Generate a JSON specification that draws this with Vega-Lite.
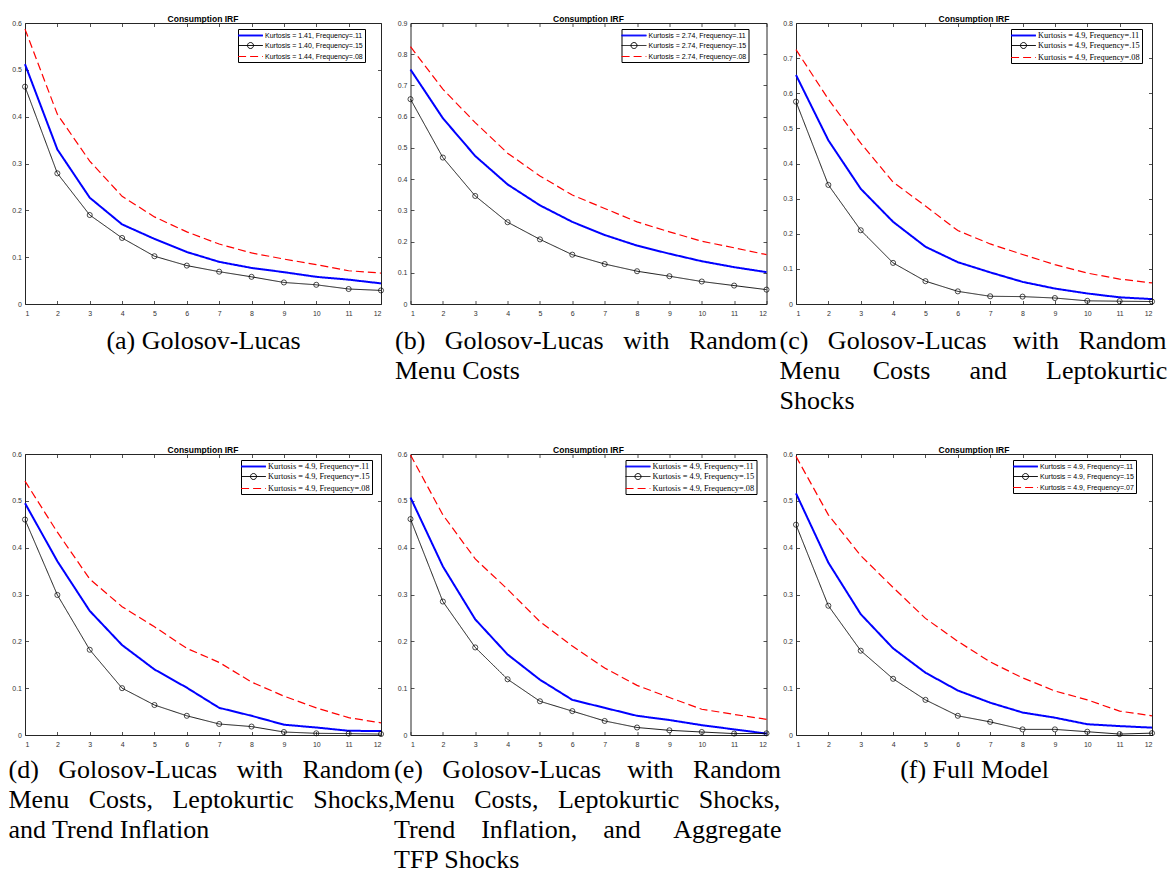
{
  "$schema": "https://vega.github.io/schema/vega-lite/v6.json",
  "background": "white",
  "padding": {"left": 7, "top": 14, "right": 5, "bottom": 25},
  "datasets": {
    "a": [
      {"s": "Kurtosis = 1.41, Frequency=.11", "t": 1, "v": 0.512}, {"s": "Kurtosis = 1.41, Frequency=.11", "t": 2, "v": 0.330}, {"s": "Kurtosis = 1.41, Frequency=.11", "t": 3, "v": 0.227}, {"s": "Kurtosis = 1.41, Frequency=.11", "t": 4, "v": 0.170}, {"s": "Kurtosis = 1.41, Frequency=.11", "t": 5, "v": 0.139}, {"s": "Kurtosis = 1.41, Frequency=.11", "t": 6, "v": 0.111}, {"s": "Kurtosis = 1.41, Frequency=.11", "t": 7, "v": 0.090}, {"s": "Kurtosis = 1.41, Frequency=.11", "t": 8, "v": 0.077}, {"s": "Kurtosis = 1.41, Frequency=.11", "t": 9, "v": 0.068}, {"s": "Kurtosis = 1.41, Frequency=.11", "t": 10, "v": 0.058}, {"s": "Kurtosis = 1.41, Frequency=.11", "t": 11, "v": 0.052}, {"s": "Kurtosis = 1.41, Frequency=.11", "t": 12, "v": 0.044},
      {"s": "Kurtosis = 1.40, Frequency=.15", "t": 1, "v": 0.464}, {"s": "Kurtosis = 1.40, Frequency=.15", "t": 2, "v": 0.279}, {"s": "Kurtosis = 1.40, Frequency=.15", "t": 3, "v": 0.190}, {"s": "Kurtosis = 1.40, Frequency=.15", "t": 4, "v": 0.141}, {"s": "Kurtosis = 1.40, Frequency=.15", "t": 5, "v": 0.102}, {"s": "Kurtosis = 1.40, Frequency=.15", "t": 6, "v": 0.082}, {"s": "Kurtosis = 1.40, Frequency=.15", "t": 7, "v": 0.069}, {"s": "Kurtosis = 1.40, Frequency=.15", "t": 8, "v": 0.058}, {"s": "Kurtosis = 1.40, Frequency=.15", "t": 9, "v": 0.046}, {"s": "Kurtosis = 1.40, Frequency=.15", "t": 10, "v": 0.041}, {"s": "Kurtosis = 1.40, Frequency=.15", "t": 11, "v": 0.032}, {"s": "Kurtosis = 1.40, Frequency=.15", "t": 12, "v": 0.029},
      {"s": "Kurtosis = 1.44, Frequency=.08", "t": 1, "v": 0.587}, {"s": "Kurtosis = 1.44, Frequency=.08", "t": 2, "v": 0.405}, {"s": "Kurtosis = 1.44, Frequency=.08", "t": 3, "v": 0.305}, {"s": "Kurtosis = 1.44, Frequency=.08", "t": 4, "v": 0.230}, {"s": "Kurtosis = 1.44, Frequency=.08", "t": 5, "v": 0.186}, {"s": "Kurtosis = 1.44, Frequency=.08", "t": 6, "v": 0.154}, {"s": "Kurtosis = 1.44, Frequency=.08", "t": 7, "v": 0.128}, {"s": "Kurtosis = 1.44, Frequency=.08", "t": 8, "v": 0.109}, {"s": "Kurtosis = 1.44, Frequency=.08", "t": 9, "v": 0.096}, {"s": "Kurtosis = 1.44, Frequency=.08", "t": 10, "v": 0.084}, {"s": "Kurtosis = 1.44, Frequency=.08", "t": 11, "v": 0.071}, {"s": "Kurtosis = 1.44, Frequency=.08", "t": 12, "v": 0.066}
    ],
    "b": [
      {"s": "Kurtosis = 2.74, Frequency=.11", "t": 1, "v": 0.751}, {"s": "Kurtosis = 2.74, Frequency=.11", "t": 2, "v": 0.595}, {"s": "Kurtosis = 2.74, Frequency=.11", "t": 3, "v": 0.474}, {"s": "Kurtosis = 2.74, Frequency=.11", "t": 4, "v": 0.383}, {"s": "Kurtosis = 2.74, Frequency=.11", "t": 5, "v": 0.316}, {"s": "Kurtosis = 2.74, Frequency=.11", "t": 6, "v": 0.263}, {"s": "Kurtosis = 2.74, Frequency=.11", "t": 7, "v": 0.221}, {"s": "Kurtosis = 2.74, Frequency=.11", "t": 8, "v": 0.187}, {"s": "Kurtosis = 2.74, Frequency=.11", "t": 9, "v": 0.161}, {"s": "Kurtosis = 2.74, Frequency=.11", "t": 10, "v": 0.137}, {"s": "Kurtosis = 2.74, Frequency=.11", "t": 11, "v": 0.118}, {"s": "Kurtosis = 2.74, Frequency=.11", "t": 12, "v": 0.102},
      {"s": "Kurtosis = 2.74, Frequency=.15", "t": 1, "v": 0.656}, {"s": "Kurtosis = 2.74, Frequency=.15", "t": 2, "v": 0.469}, {"s": "Kurtosis = 2.74, Frequency=.15", "t": 3, "v": 0.346}, {"s": "Kurtosis = 2.74, Frequency=.15", "t": 4, "v": 0.262}, {"s": "Kurtosis = 2.74, Frequency=.15", "t": 5, "v": 0.207}, {"s": "Kurtosis = 2.74, Frequency=.15", "t": 6, "v": 0.158}, {"s": "Kurtosis = 2.74, Frequency=.15", "t": 7, "v": 0.128}, {"s": "Kurtosis = 2.74, Frequency=.15", "t": 8, "v": 0.105}, {"s": "Kurtosis = 2.74, Frequency=.15", "t": 9, "v": 0.089}, {"s": "Kurtosis = 2.74, Frequency=.15", "t": 10, "v": 0.072}, {"s": "Kurtosis = 2.74, Frequency=.15", "t": 11, "v": 0.059}, {"s": "Kurtosis = 2.74, Frequency=.15", "t": 12, "v": 0.046},
      {"s": "Kurtosis = 2.74, Frequency=.08", "t": 1, "v": 0.824}, {"s": "Kurtosis = 2.74, Frequency=.08", "t": 2, "v": 0.688}, {"s": "Kurtosis = 2.74, Frequency=.08", "t": 3, "v": 0.581}, {"s": "Kurtosis = 2.74, Frequency=.08", "t": 4, "v": 0.483}, {"s": "Kurtosis = 2.74, Frequency=.08", "t": 5, "v": 0.410}, {"s": "Kurtosis = 2.74, Frequency=.08", "t": 6, "v": 0.349}, {"s": "Kurtosis = 2.74, Frequency=.08", "t": 7, "v": 0.306}, {"s": "Kurtosis = 2.74, Frequency=.08", "t": 8, "v": 0.263}, {"s": "Kurtosis = 2.74, Frequency=.08", "t": 9, "v": 0.231}, {"s": "Kurtosis = 2.74, Frequency=.08", "t": 10, "v": 0.201}, {"s": "Kurtosis = 2.74, Frequency=.08", "t": 11, "v": 0.180}, {"s": "Kurtosis = 2.74, Frequency=.08", "t": 12, "v": 0.158}
    ],
    "c": [
      {"s": "Kurtosis = 4.9, Frequency=.11", "t": 1, "v": 0.652}, {"s": "Kurtosis = 4.9, Frequency=.11", "t": 2, "v": 0.466}, {"s": "Kurtosis = 4.9, Frequency=.11", "t": 3, "v": 0.328}, {"s": "Kurtosis = 4.9, Frequency=.11", "t": 4, "v": 0.234}, {"s": "Kurtosis = 4.9, Frequency=.11", "t": 5, "v": 0.163}, {"s": "Kurtosis = 4.9, Frequency=.11", "t": 6, "v": 0.119}, {"s": "Kurtosis = 4.9, Frequency=.11", "t": 7, "v": 0.090}, {"s": "Kurtosis = 4.9, Frequency=.11", "t": 8, "v": 0.063}, {"s": "Kurtosis = 4.9, Frequency=.11", "t": 9, "v": 0.044}, {"s": "Kurtosis = 4.9, Frequency=.11", "t": 10, "v": 0.030}, {"s": "Kurtosis = 4.9, Frequency=.11", "t": 11, "v": 0.019}, {"s": "Kurtosis = 4.9, Frequency=.11", "t": 12, "v": 0.014},
      {"s": "Kurtosis = 4.9, Frequency=.15", "t": 1, "v": 0.576}, {"s": "Kurtosis = 4.9, Frequency=.15", "t": 2, "v": 0.339}, {"s": "Kurtosis = 4.9, Frequency=.15", "t": 3, "v": 0.210}, {"s": "Kurtosis = 4.9, Frequency=.15", "t": 4, "v": 0.117}, {"s": "Kurtosis = 4.9, Frequency=.15", "t": 5, "v": 0.065}, {"s": "Kurtosis = 4.9, Frequency=.15", "t": 6, "v": 0.036}, {"s": "Kurtosis = 4.9, Frequency=.15", "t": 7, "v": 0.022}, {"s": "Kurtosis = 4.9, Frequency=.15", "t": 8, "v": 0.021}, {"s": "Kurtosis = 4.9, Frequency=.15", "t": 9, "v": 0.017}, {"s": "Kurtosis = 4.9, Frequency=.15", "t": 10, "v": 0.009}, {"s": "Kurtosis = 4.9, Frequency=.15", "t": 11, "v": 0.008}, {"s": "Kurtosis = 4.9, Frequency=.15", "t": 12, "v": 0.007},
      {"s": "Kurtosis = 4.9, Frequency=.08", "t": 1, "v": 0.724}, {"s": "Kurtosis = 4.9, Frequency=.08", "t": 2, "v": 0.583}, {"s": "Kurtosis = 4.9, Frequency=.08", "t": 3, "v": 0.458}, {"s": "Kurtosis = 4.9, Frequency=.08", "t": 4, "v": 0.347}, {"s": "Kurtosis = 4.9, Frequency=.08", "t": 5, "v": 0.279}, {"s": "Kurtosis = 4.9, Frequency=.08", "t": 6, "v": 0.209}, {"s": "Kurtosis = 4.9, Frequency=.08", "t": 7, "v": 0.171}, {"s": "Kurtosis = 4.9, Frequency=.08", "t": 8, "v": 0.141}, {"s": "Kurtosis = 4.9, Frequency=.08", "t": 9, "v": 0.112}, {"s": "Kurtosis = 4.9, Frequency=.08", "t": 10, "v": 0.088}, {"s": "Kurtosis = 4.9, Frequency=.08", "t": 11, "v": 0.071}, {"s": "Kurtosis = 4.9, Frequency=.08", "t": 12, "v": 0.060}
    ],
    "d": [
      {"s": "Kurtosis = 4.9, Frequency=.11", "t": 1, "v": 0.495}, {"s": "Kurtosis = 4.9, Frequency=.11", "t": 2, "v": 0.371}, {"s": "Kurtosis = 4.9, Frequency=.11", "t": 3, "v": 0.265}, {"s": "Kurtosis = 4.9, Frequency=.11", "t": 4, "v": 0.192}, {"s": "Kurtosis = 4.9, Frequency=.11", "t": 5, "v": 0.140}, {"s": "Kurtosis = 4.9, Frequency=.11", "t": 6, "v": 0.101}, {"s": "Kurtosis = 4.9, Frequency=.11", "t": 7, "v": 0.058}, {"s": "Kurtosis = 4.9, Frequency=.11", "t": 8, "v": 0.041}, {"s": "Kurtosis = 4.9, Frequency=.11", "t": 9, "v": 0.022}, {"s": "Kurtosis = 4.9, Frequency=.11", "t": 10, "v": 0.016}, {"s": "Kurtosis = 4.9, Frequency=.11", "t": 11, "v": 0.009}, {"s": "Kurtosis = 4.9, Frequency=.11", "t": 12, "v": 0.0085},
      {"s": "Kurtosis = 4.9, Frequency=.15", "t": 1, "v": 0.460}, {"s": "Kurtosis = 4.9, Frequency=.15", "t": 2, "v": 0.299}, {"s": "Kurtosis = 4.9, Frequency=.15", "t": 3, "v": 0.182}, {"s": "Kurtosis = 4.9, Frequency=.15", "t": 4, "v": 0.100}, {"s": "Kurtosis = 4.9, Frequency=.15", "t": 5, "v": 0.064}, {"s": "Kurtosis = 4.9, Frequency=.15", "t": 6, "v": 0.041}, {"s": "Kurtosis = 4.9, Frequency=.15", "t": 7, "v": 0.0235}, {"s": "Kurtosis = 4.9, Frequency=.15", "t": 8, "v": 0.018}, {"s": "Kurtosis = 4.9, Frequency=.15", "t": 9, "v": 0.0064}, {"s": "Kurtosis = 4.9, Frequency=.15", "t": 10, "v": 0.0036}, {"s": "Kurtosis = 4.9, Frequency=.15", "t": 11, "v": 0.003}, {"s": "Kurtosis = 4.9, Frequency=.15", "t": 12, "v": 0.002},
      {"s": "Kurtosis = 4.9, Frequency=.08", "t": 1, "v": 0.542}, {"s": "Kurtosis = 4.9, Frequency=.08", "t": 2, "v": 0.433}, {"s": "Kurtosis = 4.9, Frequency=.08", "t": 3, "v": 0.333}, {"s": "Kurtosis = 4.9, Frequency=.08", "t": 4, "v": 0.274}, {"s": "Kurtosis = 4.9, Frequency=.08", "t": 5, "v": 0.231}, {"s": "Kurtosis = 4.9, Frequency=.08", "t": 6, "v": 0.185}, {"s": "Kurtosis = 4.9, Frequency=.08", "t": 7, "v": 0.155}, {"s": "Kurtosis = 4.9, Frequency=.08", "t": 8, "v": 0.113}, {"s": "Kurtosis = 4.9, Frequency=.08", "t": 9, "v": 0.083}, {"s": "Kurtosis = 4.9, Frequency=.08", "t": 10, "v": 0.058}, {"s": "Kurtosis = 4.9, Frequency=.08", "t": 11, "v": 0.037}, {"s": "Kurtosis = 4.9, Frequency=.08", "t": 12, "v": 0.026}
    ],
    "e": [
      {"s": "Kurtosis = 4.9, Frequency=.11", "t": 1, "v": 0.507}, {"s": "Kurtosis = 4.9, Frequency=.11", "t": 2, "v": 0.360}, {"s": "Kurtosis = 4.9, Frequency=.11", "t": 3, "v": 0.247}, {"s": "Kurtosis = 4.9, Frequency=.11", "t": 4, "v": 0.172}, {"s": "Kurtosis = 4.9, Frequency=.11", "t": 5, "v": 0.118}, {"s": "Kurtosis = 4.9, Frequency=.11", "t": 6, "v": 0.075}, {"s": "Kurtosis = 4.9, Frequency=.11", "t": 7, "v": 0.058}, {"s": "Kurtosis = 4.9, Frequency=.11", "t": 8, "v": 0.041}, {"s": "Kurtosis = 4.9, Frequency=.11", "t": 9, "v": 0.032}, {"s": "Kurtosis = 4.9, Frequency=.11", "t": 10, "v": 0.021}, {"s": "Kurtosis = 4.9, Frequency=.11", "t": 11, "v": 0.012}, {"s": "Kurtosis = 4.9, Frequency=.11", "t": 12, "v": 0.003},
      {"s": "Kurtosis = 4.9, Frequency=.15", "t": 1, "v": 0.461}, {"s": "Kurtosis = 4.9, Frequency=.15", "t": 2, "v": 0.285}, {"s": "Kurtosis = 4.9, Frequency=.15", "t": 3, "v": 0.187}, {"s": "Kurtosis = 4.9, Frequency=.15", "t": 4, "v": 0.119}, {"s": "Kurtosis = 4.9, Frequency=.15", "t": 5, "v": 0.072}, {"s": "Kurtosis = 4.9, Frequency=.15", "t": 6, "v": 0.051}, {"s": "Kurtosis = 4.9, Frequency=.15", "t": 7, "v": 0.030}, {"s": "Kurtosis = 4.9, Frequency=.15", "t": 8, "v": 0.016}, {"s": "Kurtosis = 4.9, Frequency=.15", "t": 9, "v": 0.010}, {"s": "Kurtosis = 4.9, Frequency=.15", "t": 10, "v": 0.0064}, {"s": "Kurtosis = 4.9, Frequency=.15", "t": 11, "v": 0.003}, {"s": "Kurtosis = 4.9, Frequency=.15", "t": 12, "v": 0.0035},
      {"s": "Kurtosis = 4.9, Frequency=.08", "t": 1, "v": 0.598}, {"s": "Kurtosis = 4.9, Frequency=.08", "t": 2, "v": 0.470}, {"s": "Kurtosis = 4.9, Frequency=.08", "t": 3, "v": 0.376}, {"s": "Kurtosis = 4.9, Frequency=.08", "t": 4, "v": 0.311}, {"s": "Kurtosis = 4.9, Frequency=.08", "t": 5, "v": 0.242}, {"s": "Kurtosis = 4.9, Frequency=.08", "t": 6, "v": 0.190}, {"s": "Kurtosis = 4.9, Frequency=.08", "t": 7, "v": 0.143}, {"s": "Kurtosis = 4.9, Frequency=.08", "t": 8, "v": 0.106}, {"s": "Kurtosis = 4.9, Frequency=.08", "t": 9, "v": 0.080}, {"s": "Kurtosis = 4.9, Frequency=.08", "t": 10, "v": 0.055}, {"s": "Kurtosis = 4.9, Frequency=.08", "t": 11, "v": 0.044}, {"s": "Kurtosis = 4.9, Frequency=.08", "t": 12, "v": 0.0335}
    ],
    "f": [
      {"s": "Kurtosis = 4.9, Frequency=.11", "t": 1, "v": 0.516}, {"s": "Kurtosis = 4.9, Frequency=.11", "t": 2, "v": 0.368}, {"s": "Kurtosis = 4.9, Frequency=.11", "t": 3, "v": 0.258}, {"s": "Kurtosis = 4.9, Frequency=.11", "t": 4, "v": 0.185}, {"s": "Kurtosis = 4.9, Frequency=.11", "t": 5, "v": 0.133}, {"s": "Kurtosis = 4.9, Frequency=.11", "t": 6, "v": 0.095}, {"s": "Kurtosis = 4.9, Frequency=.11", "t": 7, "v": 0.069}, {"s": "Kurtosis = 4.9, Frequency=.11", "t": 8, "v": 0.048}, {"s": "Kurtosis = 4.9, Frequency=.11", "t": 9, "v": 0.037}, {"s": "Kurtosis = 4.9, Frequency=.11", "t": 10, "v": 0.023}, {"s": "Kurtosis = 4.9, Frequency=.11", "t": 11, "v": 0.019}, {"s": "Kurtosis = 4.9, Frequency=.11", "t": 12, "v": 0.0157},
      {"s": "Kurtosis = 4.9, Frequency=.15", "t": 1, "v": 0.449}, {"s": "Kurtosis = 4.9, Frequency=.15", "t": 2, "v": 0.276}, {"s": "Kurtosis = 4.9, Frequency=.15", "t": 3, "v": 0.180}, {"s": "Kurtosis = 4.9, Frequency=.15", "t": 4, "v": 0.120}, {"s": "Kurtosis = 4.9, Frequency=.15", "t": 5, "v": 0.075}, {"s": "Kurtosis = 4.9, Frequency=.15", "t": 6, "v": 0.041}, {"s": "Kurtosis = 4.9, Frequency=.15", "t": 7, "v": 0.028}, {"s": "Kurtosis = 4.9, Frequency=.15", "t": 8, "v": 0.012}, {"s": "Kurtosis = 4.9, Frequency=.15", "t": 9, "v": 0.012}, {"s": "Kurtosis = 4.9, Frequency=.15", "t": 10, "v": 0.007}, {"s": "Kurtosis = 4.9, Frequency=.15", "t": 11, "v": 0.002}, {"s": "Kurtosis = 4.9, Frequency=.15", "t": 12, "v": 0.004},
      {"s": "Kurtosis = 4.9, Frequency=.07", "t": 1, "v": 0.595}, {"s": "Kurtosis = 4.9, Frequency=.07", "t": 2, "v": 0.470}, {"s": "Kurtosis = 4.9, Frequency=.07", "t": 3, "v": 0.383}, {"s": "Kurtosis = 4.9, Frequency=.07", "t": 4, "v": 0.315}, {"s": "Kurtosis = 4.9, Frequency=.07", "t": 5, "v": 0.249}, {"s": "Kurtosis = 4.9, Frequency=.07", "t": 6, "v": 0.200}, {"s": "Kurtosis = 4.9, Frequency=.07", "t": 7, "v": 0.156}, {"s": "Kurtosis = 4.9, Frequency=.07", "t": 8, "v": 0.122}, {"s": "Kurtosis = 4.9, Frequency=.07", "t": 9, "v": 0.094}, {"s": "Kurtosis = 4.9, Frequency=.07", "t": 10, "v": 0.075}, {"s": "Kurtosis = 4.9, Frequency=.07", "t": 11, "v": 0.051}, {"s": "Kurtosis = 4.9, Frequency=.07", "t": 12, "v": 0.041}
    ]
  },
  "columns": 3,
  "spacing": {"row": 150, "column": 29.5},
  "bounds": "flush",
  "resolve": {"scale": {"color": "independent", "strokeDash": "independent", "shape": "independent"}, "legend": {"color": "independent", "strokeDash": "independent", "shape": "independent"}},
  "concat": [
    {
      "width": 356, "height": 281, "title": "Consumption IRF", "data": {"name": "a"},
      "layer": [
        {"mark": {"type": "line"},
         "encoding": {
           "x": {"field": "t", "type": "quantitative", "scale": {"domain": [1, 12], "nice": false, "zero": false}, "axis": {"orient": "bottom", "values": [1,2,3,4,5,6,7,8,9,10,11,12], "title": ["(a) Golosov-Lucas"], "titleX": 178, "titleY": 44, "titleAlign": "center"}},
           "y": {"field": "v", "type": "quantitative", "scale": {"domain": [0, 0.6], "nice": false}, "axis": {"orient": "left", "values": [0,0.1,0.2,0.3,0.4,0.5,0.6], "title": null}},
           "color": {"field": "s", "type": "nominal", "scale": {"domain": ["Kurtosis = 1.41, Frequency=.11", "Kurtosis = 1.40, Frequency=.15", "Kurtosis = 1.44, Frequency=.08"], "range": ["#0000ff", "#000000", "#ff0000"]}, "legend": {"title": null, "labelFont": "Liberation Sans", "labelFontSize": 7, "legendX": 213}},
           "strokeDash": {"field": "s", "type": "nominal", "scale": {"domain": ["Kurtosis = 1.41, Frequency=.11", "Kurtosis = 1.40, Frequency=.15", "Kurtosis = 1.44, Frequency=.08"], "range": [[1, 0], [1, 0], [8, 4]]}, "legend": {"title": null, "labelFont": "Liberation Sans", "labelFontSize": 7, "legendX": 213}},
           "strokeWidth": {"condition": [{"test": "indexof(datum.s, '.11') >= 0", "value": 2}, {"test": "indexof(datum.s, '.15') >= 0", "value": 0.9}], "value": 1.2}
         }},
        {"transform": [{"filter": "indexof(datum.s, '.15') >= 0"}],
         "mark": {"type": "point", "shape": "circle", "filled": false, "size": 26, "color": "#000000", "strokeWidth": 0.7, "opacity": 1},
         "encoding": {
           "x": {"field": "t", "type": "quantitative", "scale": {"domain": [1, 12], "nice": false, "zero": false}, "axis": {"orient": "top", "values": [1,2,3,4,5,6,7,8,9,10,11,12], "labels": false, "title": null}},
           "y": {"field": "v", "type": "quantitative", "scale": {"domain": [0, 0.6], "nice": false}, "axis": {"orient": "right", "values": [0,0.1,0.2,0.3,0.4,0.5,0.6], "labels": false, "title": null}}
         }},
        {"mark": {"type": "point", "filled": false, "opacity": 0},
         "encoding": {
           "x": {"field": "t", "type": "quantitative", "scale": {"domain": [1, 12], "nice": false, "zero": false}, "axis": null},
           "y": {"field": "v", "type": "quantitative", "scale": {"domain": [0, 0.6], "nice": false}, "axis": null},
           "shape": {"field": "s", "type": "nominal", "scale": {"domain": ["Kurtosis = 1.41, Frequency=.11", "Kurtosis = 1.40, Frequency=.15", "Kurtosis = 1.44, Frequency=.08"], "range": ["M-3.1,-0.12L3.1,-0.12M-3.1,0L3.1,0M-3.1,0.12L3.1,0.12", "M-3.1,0L3.1,0M0.75,0A0.75,0.75,0,1,1,-0.75,0A0.75,0.75,0,1,1,0.75,0", "M-3.1,0L3.1,0"]}, "legend": {"title": null, "labelFont": "Liberation Sans", "labelFontSize": 7, "legendX": 213}}
         }}
      ],
      "resolve": {"axis": {"x": "independent", "y": "independent"}}
    },
    {
      "width": 356, "height": 281, "title": "Consumption IRF", "data": {"name": "b"},
      "layer": [
        {"mark": {"type": "line"},
         "encoding": {
           "x": {"field": "t", "type": "quantitative", "scale": {"domain": [1, 12], "nice": false, "zero": false}, "axis": {"orient": "bottom", "values": [1,2,3,4,5,6,7,8,9,10,11,12], "title": ["(b)\u00a0\u00a0\u00a0Golosov-Lucas\u00a0\u00a0\u00a0with\u00a0\u00a0\u00a0Random", "Menu Costs"], "titleX": -16, "titleY": 44, "titleAlign": "left"}},
           "y": {"field": "v", "type": "quantitative", "scale": {"domain": [0, 0.9], "nice": false}, "axis": {"orient": "left", "values": [0,0.1,0.2,0.3,0.4,0.5,0.6,0.7,0.8,0.9], "title": null}},
           "color": {"field": "s", "type": "nominal", "scale": {"domain": ["Kurtosis = 2.74, Frequency=.11", "Kurtosis = 2.74, Frequency=.15", "Kurtosis = 2.74, Frequency=.08"], "range": ["#0000ff", "#000000", "#ff0000"]}, "legend": {"title": null, "labelFont": "Liberation Sans", "labelFontSize": 7, "legendX": 211}},
           "strokeDash": {"field": "s", "type": "nominal", "scale": {"domain": ["Kurtosis = 2.74, Frequency=.11", "Kurtosis = 2.74, Frequency=.15", "Kurtosis = 2.74, Frequency=.08"], "range": [[1, 0], [1, 0], [8, 4]]}, "legend": {"title": null, "labelFont": "Liberation Sans", "labelFontSize": 7, "legendX": 211}},
           "strokeWidth": {"condition": [{"test": "indexof(datum.s, '.11') >= 0", "value": 2}, {"test": "indexof(datum.s, '.15') >= 0", "value": 0.9}], "value": 1.2}
         }},
        {"transform": [{"filter": "indexof(datum.s, '.15') >= 0"}],
         "mark": {"type": "point", "shape": "circle", "filled": false, "size": 26, "color": "#000000", "strokeWidth": 0.7, "opacity": 1},
         "encoding": {
           "x": {"field": "t", "type": "quantitative", "scale": {"domain": [1, 12], "nice": false, "zero": false}, "axis": {"orient": "top", "values": [1,2,3,4,5,6,7,8,9,10,11,12], "labels": false, "title": null}},
           "y": {"field": "v", "type": "quantitative", "scale": {"domain": [0, 0.9], "nice": false}, "axis": {"orient": "right", "values": [0,0.1,0.2,0.3,0.4,0.5,0.6,0.7,0.8,0.9], "labels": false, "title": null}}
         }},
        {"mark": {"type": "point", "filled": false, "opacity": 0},
         "encoding": {
           "x": {"field": "t", "type": "quantitative", "scale": {"domain": [1, 12], "nice": false, "zero": false}, "axis": null},
           "y": {"field": "v", "type": "quantitative", "scale": {"domain": [0, 0.9], "nice": false}, "axis": null},
           "shape": {"field": "s", "type": "nominal", "scale": {"domain": ["Kurtosis = 2.74, Frequency=.11", "Kurtosis = 2.74, Frequency=.15", "Kurtosis = 2.74, Frequency=.08"], "range": ["M-3.1,-0.12L3.1,-0.12M-3.1,0L3.1,0M-3.1,0.12L3.1,0.12", "M-3.1,0L3.1,0M0.75,0A0.75,0.75,0,1,1,-0.75,0A0.75,0.75,0,1,1,0.75,0", "M-3.1,0L3.1,0"]}, "legend": {"title": null, "labelFont": "Liberation Sans", "labelFontSize": 7, "legendX": 211}}
         }}
      ],
      "resolve": {"axis": {"x": "independent", "y": "independent"}}
    },
    {
      "width": 356, "height": 281, "title": "Consumption IRF", "data": {"name": "c"},
      "layer": [
        {"mark": {"type": "line"},
         "encoding": {
           "x": {"field": "t", "type": "quantitative", "scale": {"domain": [1, 12], "nice": false, "zero": false}, "axis": {"orient": "bottom", "values": [1,2,3,4,5,6,7,8,9,10,11,12], "title": ["(c)\u00a0\u00a0\u00a0Golosov-Lucas\u00a0\u00a0\u00a0\u00a0with\u00a0\u00a0\u00a0Random", "Menu\u00a0\u00a0\u00a0\u00a0\u00a0Costs\u00a0\u00a0\u00a0\u00a0\u00a0\u00a0and\u00a0\u00a0\u00a0\u00a0\u00a0\u00a0Leptokurtic", "Shocks"], "titleX": -17, "titleY": 44, "titleAlign": "left"}},
           "y": {"field": "v", "type": "quantitative", "scale": {"domain": [0, 0.8], "nice": false}, "axis": {"orient": "left", "values": [0,0.1,0.2,0.3,0.4,0.5,0.6,0.7,0.8], "title": null}},
           "color": {"field": "s", "type": "nominal", "scale": {"domain": ["Kurtosis = 4.9, Frequency=.11", "Kurtosis = 4.9, Frequency=.15", "Kurtosis = 4.9, Frequency=.08"], "range": ["#0000ff", "#000000", "#ff0000"]}, "legend": {"title": null, "labelFont": "Liberation Serif", "labelFontSize": 8.3, "legendX": 215}},
           "strokeDash": {"field": "s", "type": "nominal", "scale": {"domain": ["Kurtosis = 4.9, Frequency=.11", "Kurtosis = 4.9, Frequency=.15", "Kurtosis = 4.9, Frequency=.08"], "range": [[1, 0], [1, 0], [8, 4]]}, "legend": {"title": null, "labelFont": "Liberation Serif", "labelFontSize": 8.3, "legendX": 215}},
           "strokeWidth": {"condition": [{"test": "indexof(datum.s, '.11') >= 0", "value": 2}, {"test": "indexof(datum.s, '.15') >= 0", "value": 0.9}], "value": 1.2}
         }},
        {"transform": [{"filter": "indexof(datum.s, '.15') >= 0"}],
         "mark": {"type": "point", "shape": "circle", "filled": false, "size": 26, "color": "#000000", "strokeWidth": 0.7, "opacity": 1},
         "encoding": {
           "x": {"field": "t", "type": "quantitative", "scale": {"domain": [1, 12], "nice": false, "zero": false}, "axis": {"orient": "top", "values": [1,2,3,4,5,6,7,8,9,10,11,12], "labels": false, "title": null}},
           "y": {"field": "v", "type": "quantitative", "scale": {"domain": [0, 0.8], "nice": false}, "axis": {"orient": "right", "values": [0,0.1,0.2,0.3,0.4,0.5,0.6,0.7,0.8], "labels": false, "title": null}}
         }},
        {"mark": {"type": "point", "filled": false, "opacity": 0},
         "encoding": {
           "x": {"field": "t", "type": "quantitative", "scale": {"domain": [1, 12], "nice": false, "zero": false}, "axis": null},
           "y": {"field": "v", "type": "quantitative", "scale": {"domain": [0, 0.8], "nice": false}, "axis": null},
           "shape": {"field": "s", "type": "nominal", "scale": {"domain": ["Kurtosis = 4.9, Frequency=.11", "Kurtosis = 4.9, Frequency=.15", "Kurtosis = 4.9, Frequency=.08"], "range": ["M-3.1,-0.12L3.1,-0.12M-3.1,0L3.1,0M-3.1,0.12L3.1,0.12", "M-3.1,0L3.1,0M0.75,0A0.75,0.75,0,1,1,-0.75,0A0.75,0.75,0,1,1,0.75,0", "M-3.1,0L3.1,0"]}, "legend": {"title": null, "labelFont": "Liberation Serif", "labelFontSize": 8.3, "legendX": 215}}
         }}
      ],
      "resolve": {"axis": {"x": "independent", "y": "independent"}}
    },
    {
      "width": 356, "height": 281, "title": "Consumption IRF", "data": {"name": "d"},
      "layer": [
        {"mark": {"type": "line"},
         "encoding": {
           "x": {"field": "t", "type": "quantitative", "scale": {"domain": [1, 12], "nice": false, "zero": false}, "axis": {"orient": "bottom", "values": [1,2,3,4,5,6,7,8,9,10,11,12], "title": ["(d)\u00a0\u00a0\u00a0Golosov-Lucas\u00a0\u00a0\u00a0with\u00a0\u00a0\u00a0Random", "Menu\u00a0\u00a0\u00a0Costs,\u00a0\u00a0\u00a0Leptokurtic\u00a0\u00a0\u00a0Shocks,", "and Trend Inflation"], "titleX": -17, "titleY": 42, "titleAlign": "left"}},
           "y": {"field": "v", "type": "quantitative", "scale": {"domain": [0, 0.6], "nice": false}, "axis": {"orient": "left", "values": [0,0.1,0.2,0.3,0.4,0.5,0.6], "title": null}},
           "color": {"field": "s", "type": "nominal", "scale": {"domain": ["Kurtosis = 4.9, Frequency=.11", "Kurtosis = 4.9, Frequency=.15", "Kurtosis = 4.9, Frequency=.08"], "range": ["#0000ff", "#000000", "#ff0000"]}, "legend": {"title": null, "labelFont": "Liberation Serif", "labelFontSize": 8.3, "legendX": 216}},
           "strokeDash": {"field": "s", "type": "nominal", "scale": {"domain": ["Kurtosis = 4.9, Frequency=.11", "Kurtosis = 4.9, Frequency=.15", "Kurtosis = 4.9, Frequency=.08"], "range": [[1, 0], [1, 0], [8, 4]]}, "legend": {"title": null, "labelFont": "Liberation Serif", "labelFontSize": 8.3, "legendX": 216}},
           "strokeWidth": {"condition": [{"test": "indexof(datum.s, '.11') >= 0", "value": 2}, {"test": "indexof(datum.s, '.15') >= 0", "value": 0.9}], "value": 1.2}
         }},
        {"transform": [{"filter": "indexof(datum.s, '.15') >= 0"}],
         "mark": {"type": "point", "shape": "circle", "filled": false, "size": 26, "color": "#000000", "strokeWidth": 0.7, "opacity": 1},
         "encoding": {
           "x": {"field": "t", "type": "quantitative", "scale": {"domain": [1, 12], "nice": false, "zero": false}, "axis": {"orient": "top", "values": [1,2,3,4,5,6,7,8,9,10,11,12], "labels": false, "title": null}},
           "y": {"field": "v", "type": "quantitative", "scale": {"domain": [0, 0.6], "nice": false}, "axis": {"orient": "right", "values": [0,0.1,0.2,0.3,0.4,0.5,0.6], "labels": false, "title": null}}
         }},
        {"mark": {"type": "point", "filled": false, "opacity": 0},
         "encoding": {
           "x": {"field": "t", "type": "quantitative", "scale": {"domain": [1, 12], "nice": false, "zero": false}, "axis": null},
           "y": {"field": "v", "type": "quantitative", "scale": {"domain": [0, 0.6], "nice": false}, "axis": null},
           "shape": {"field": "s", "type": "nominal", "scale": {"domain": ["Kurtosis = 4.9, Frequency=.11", "Kurtosis = 4.9, Frequency=.15", "Kurtosis = 4.9, Frequency=.08"], "range": ["M-3.1,-0.12L3.1,-0.12M-3.1,0L3.1,0M-3.1,0.12L3.1,0.12", "M-3.1,0L3.1,0M0.75,0A0.75,0.75,0,1,1,-0.75,0A0.75,0.75,0,1,1,0.75,0", "M-3.1,0L3.1,0"]}, "legend": {"title": null, "labelFont": "Liberation Serif", "labelFontSize": 8.3, "legendX": 216}}
         }}
      ],
      "resolve": {"axis": {"x": "independent", "y": "independent"}}
    },
    {
      "width": 356, "height": 281, "title": "Consumption IRF", "data": {"name": "e"},
      "layer": [
        {"mark": {"type": "line"},
         "encoding": {
           "x": {"field": "t", "type": "quantitative", "scale": {"domain": [1, 12], "nice": false, "zero": false}, "axis": {"orient": "bottom", "values": [1,2,3,4,5,6,7,8,9,10,11,12], "title": ["(e)\u00a0\u00a0\u00a0Golosov-Lucas\u00a0\u00a0\u00a0\u00a0with\u00a0\u00a0\u00a0Random", "Menu\u00a0\u00a0\u00a0Costs,\u00a0\u00a0\u00a0Leptokurtic\u00a0\u00a0\u00a0Shocks,", "Trend\u00a0\u00a0\u00a0\u00a0Inflation,\u00a0\u00a0\u00a0\u00a0and\u00a0\u00a0\u00a0\u00a0\u00a0Aggregate", "TFP Shocks"], "titleX": -17, "titleY": 42, "titleAlign": "left"}},
           "y": {"field": "v", "type": "quantitative", "scale": {"domain": [0, 0.6], "nice": false}, "axis": {"orient": "left", "values": [0,0.1,0.2,0.3,0.4,0.5,0.6], "title": null}},
           "color": {"field": "s", "type": "nominal", "scale": {"domain": ["Kurtosis = 4.9, Frequency=.11", "Kurtosis = 4.9, Frequency=.15", "Kurtosis = 4.9, Frequency=.08"], "range": ["#0000ff", "#000000", "#ff0000"]}, "legend": {"title": null, "labelFont": "Liberation Serif", "labelFontSize": 8.3, "legendX": 215}},
           "strokeDash": {"field": "s", "type": "nominal", "scale": {"domain": ["Kurtosis = 4.9, Frequency=.11", "Kurtosis = 4.9, Frequency=.15", "Kurtosis = 4.9, Frequency=.08"], "range": [[1, 0], [1, 0], [8, 4]]}, "legend": {"title": null, "labelFont": "Liberation Serif", "labelFontSize": 8.3, "legendX": 215}},
           "strokeWidth": {"condition": [{"test": "indexof(datum.s, '.11') >= 0", "value": 2}, {"test": "indexof(datum.s, '.15') >= 0", "value": 0.9}], "value": 1.2}
         }},
        {"transform": [{"filter": "indexof(datum.s, '.15') >= 0"}],
         "mark": {"type": "point", "shape": "circle", "filled": false, "size": 26, "color": "#000000", "strokeWidth": 0.7, "opacity": 1},
         "encoding": {
           "x": {"field": "t", "type": "quantitative", "scale": {"domain": [1, 12], "nice": false, "zero": false}, "axis": {"orient": "top", "values": [1,2,3,4,5,6,7,8,9,10,11,12], "labels": false, "title": null}},
           "y": {"field": "v", "type": "quantitative", "scale": {"domain": [0, 0.6], "nice": false}, "axis": {"orient": "right", "values": [0,0.1,0.2,0.3,0.4,0.5,0.6], "labels": false, "title": null}}
         }},
        {"mark": {"type": "point", "filled": false, "opacity": 0},
         "encoding": {
           "x": {"field": "t", "type": "quantitative", "scale": {"domain": [1, 12], "nice": false, "zero": false}, "axis": null},
           "y": {"field": "v", "type": "quantitative", "scale": {"domain": [0, 0.6], "nice": false}, "axis": null},
           "shape": {"field": "s", "type": "nominal", "scale": {"domain": ["Kurtosis = 4.9, Frequency=.11", "Kurtosis = 4.9, Frequency=.15", "Kurtosis = 4.9, Frequency=.08"], "range": ["M-3.1,-0.12L3.1,-0.12M-3.1,0L3.1,0M-3.1,0.12L3.1,0.12", "M-3.1,0L3.1,0M0.75,0A0.75,0.75,0,1,1,-0.75,0A0.75,0.75,0,1,1,0.75,0", "M-3.1,0L3.1,0"]}, "legend": {"title": null, "labelFont": "Liberation Serif", "labelFontSize": 8.3, "legendX": 215}}
         }}
      ],
      "resolve": {"axis": {"x": "independent", "y": "independent"}}
    },
    {
      "width": 356, "height": 281, "title": "Consumption IRF", "data": {"name": "f"},
      "layer": [
        {"mark": {"type": "line"},
         "encoding": {
           "x": {"field": "t", "type": "quantitative", "scale": {"domain": [1, 12], "nice": false, "zero": false}, "axis": {"orient": "bottom", "values": [1,2,3,4,5,6,7,8,9,10,11,12], "title": ["(f) Full Model"], "titleX": 178, "titleY": 42, "titleAlign": "center"}},
           "y": {"field": "v", "type": "quantitative", "scale": {"domain": [0, 0.6], "nice": false}, "axis": {"orient": "left", "values": [0,0.1,0.2,0.3,0.4,0.5,0.6], "title": null}},
           "color": {"field": "s", "type": "nominal", "scale": {"domain": ["Kurtosis = 4.9, Frequency=.11", "Kurtosis = 4.9, Frequency=.15", "Kurtosis = 4.9, Frequency=.07"], "range": ["#0000ff", "#000000", "#ff0000"]}, "legend": {"title": null, "labelFont": "Liberation Sans", "labelFontSize": 7, "legendX": 217}},
           "strokeDash": {"field": "s", "type": "nominal", "scale": {"domain": ["Kurtosis = 4.9, Frequency=.11", "Kurtosis = 4.9, Frequency=.15", "Kurtosis = 4.9, Frequency=.07"], "range": [[1, 0], [1, 0], [8, 4]]}, "legend": {"title": null, "labelFont": "Liberation Sans", "labelFontSize": 7, "legendX": 217}},
           "strokeWidth": {"condition": [{"test": "indexof(datum.s, '.11') >= 0", "value": 2}, {"test": "indexof(datum.s, '.15') >= 0", "value": 0.9}], "value": 1.2}
         }},
        {"transform": [{"filter": "indexof(datum.s, '.15') >= 0"}],
         "mark": {"type": "point", "shape": "circle", "filled": false, "size": 26, "color": "#000000", "strokeWidth": 0.7, "opacity": 1},
         "encoding": {
           "x": {"field": "t", "type": "quantitative", "scale": {"domain": [1, 12], "nice": false, "zero": false}, "axis": {"orient": "top", "values": [1,2,3,4,5,6,7,8,9,10,11,12], "labels": false, "title": null}},
           "y": {"field": "v", "type": "quantitative", "scale": {"domain": [0, 0.6], "nice": false}, "axis": {"orient": "right", "values": [0,0.1,0.2,0.3,0.4,0.5,0.6], "labels": false, "title": null}}
         }},
        {"mark": {"type": "point", "filled": false, "opacity": 0},
         "encoding": {
           "x": {"field": "t", "type": "quantitative", "scale": {"domain": [1, 12], "nice": false, "zero": false}, "axis": null},
           "y": {"field": "v", "type": "quantitative", "scale": {"domain": [0, 0.6], "nice": false}, "axis": null},
           "shape": {"field": "s", "type": "nominal", "scale": {"domain": ["Kurtosis = 4.9, Frequency=.11", "Kurtosis = 4.9, Frequency=.15", "Kurtosis = 4.9, Frequency=.07"], "range": ["M-3.1,-0.12L3.1,-0.12M-3.1,0L3.1,0M-3.1,0.12L3.1,0.12", "M-3.1,0L3.1,0M0.75,0A0.75,0.75,0,1,1,-0.75,0A0.75,0.75,0,1,1,0.75,0", "M-3.1,0L3.1,0"]}, "legend": {"title": null, "labelFont": "Liberation Sans", "labelFontSize": 7, "legendX": 217}}
         }}
      ],
      "resolve": {"axis": {"x": "independent", "y": "independent"}}
    }
  ],
  "config": {
    "view": {"stroke": "#262626", "strokeWidth": 1},
    "axis": {"grid": false, "domain": false, "tickSize": -3.5, "tickColor": "#262626", "tickWidth": 0.8, "labelFont": "Liberation Sans", "labelFontSize": 7, "labelColor": "#333333", "titleFont": "Liberation Serif", "titleFontSize": 26, "titleFontWeight": "normal", "titleColor": "#000000", "titleLineHeight": 30, "titleBaseline": "alphabetic", "titleLimit": 2000, "format": "~g"},
    "axisBottom": {"labelPadding": 9},
    "axisLeft": {"labelPadding": 7},
    "axisX": {"labelAngle": 0},
    "title": {"font": "Liberation Sans", "fontSize": 8.5, "fontWeight": "bold", "color": "#000000", "offset": -4, "anchor": "middle"},
    "legend": {"orient": "none", "legendY": 6, "padding": 2, "strokeColor": "#000000", "fillColor": "#ffffff", "symbolSize": 64, "symbolType": "M-3.1,0L3.1,0", "symbolOffset": 6, "labelOffset": 10, "symbolStrokeWidth": 1, "symbolFillColor": "transparent", "symbolOpacity": 1, "labelColor": "#000000", "rowPadding": 1, "labelLimit": 300}
  }
}
